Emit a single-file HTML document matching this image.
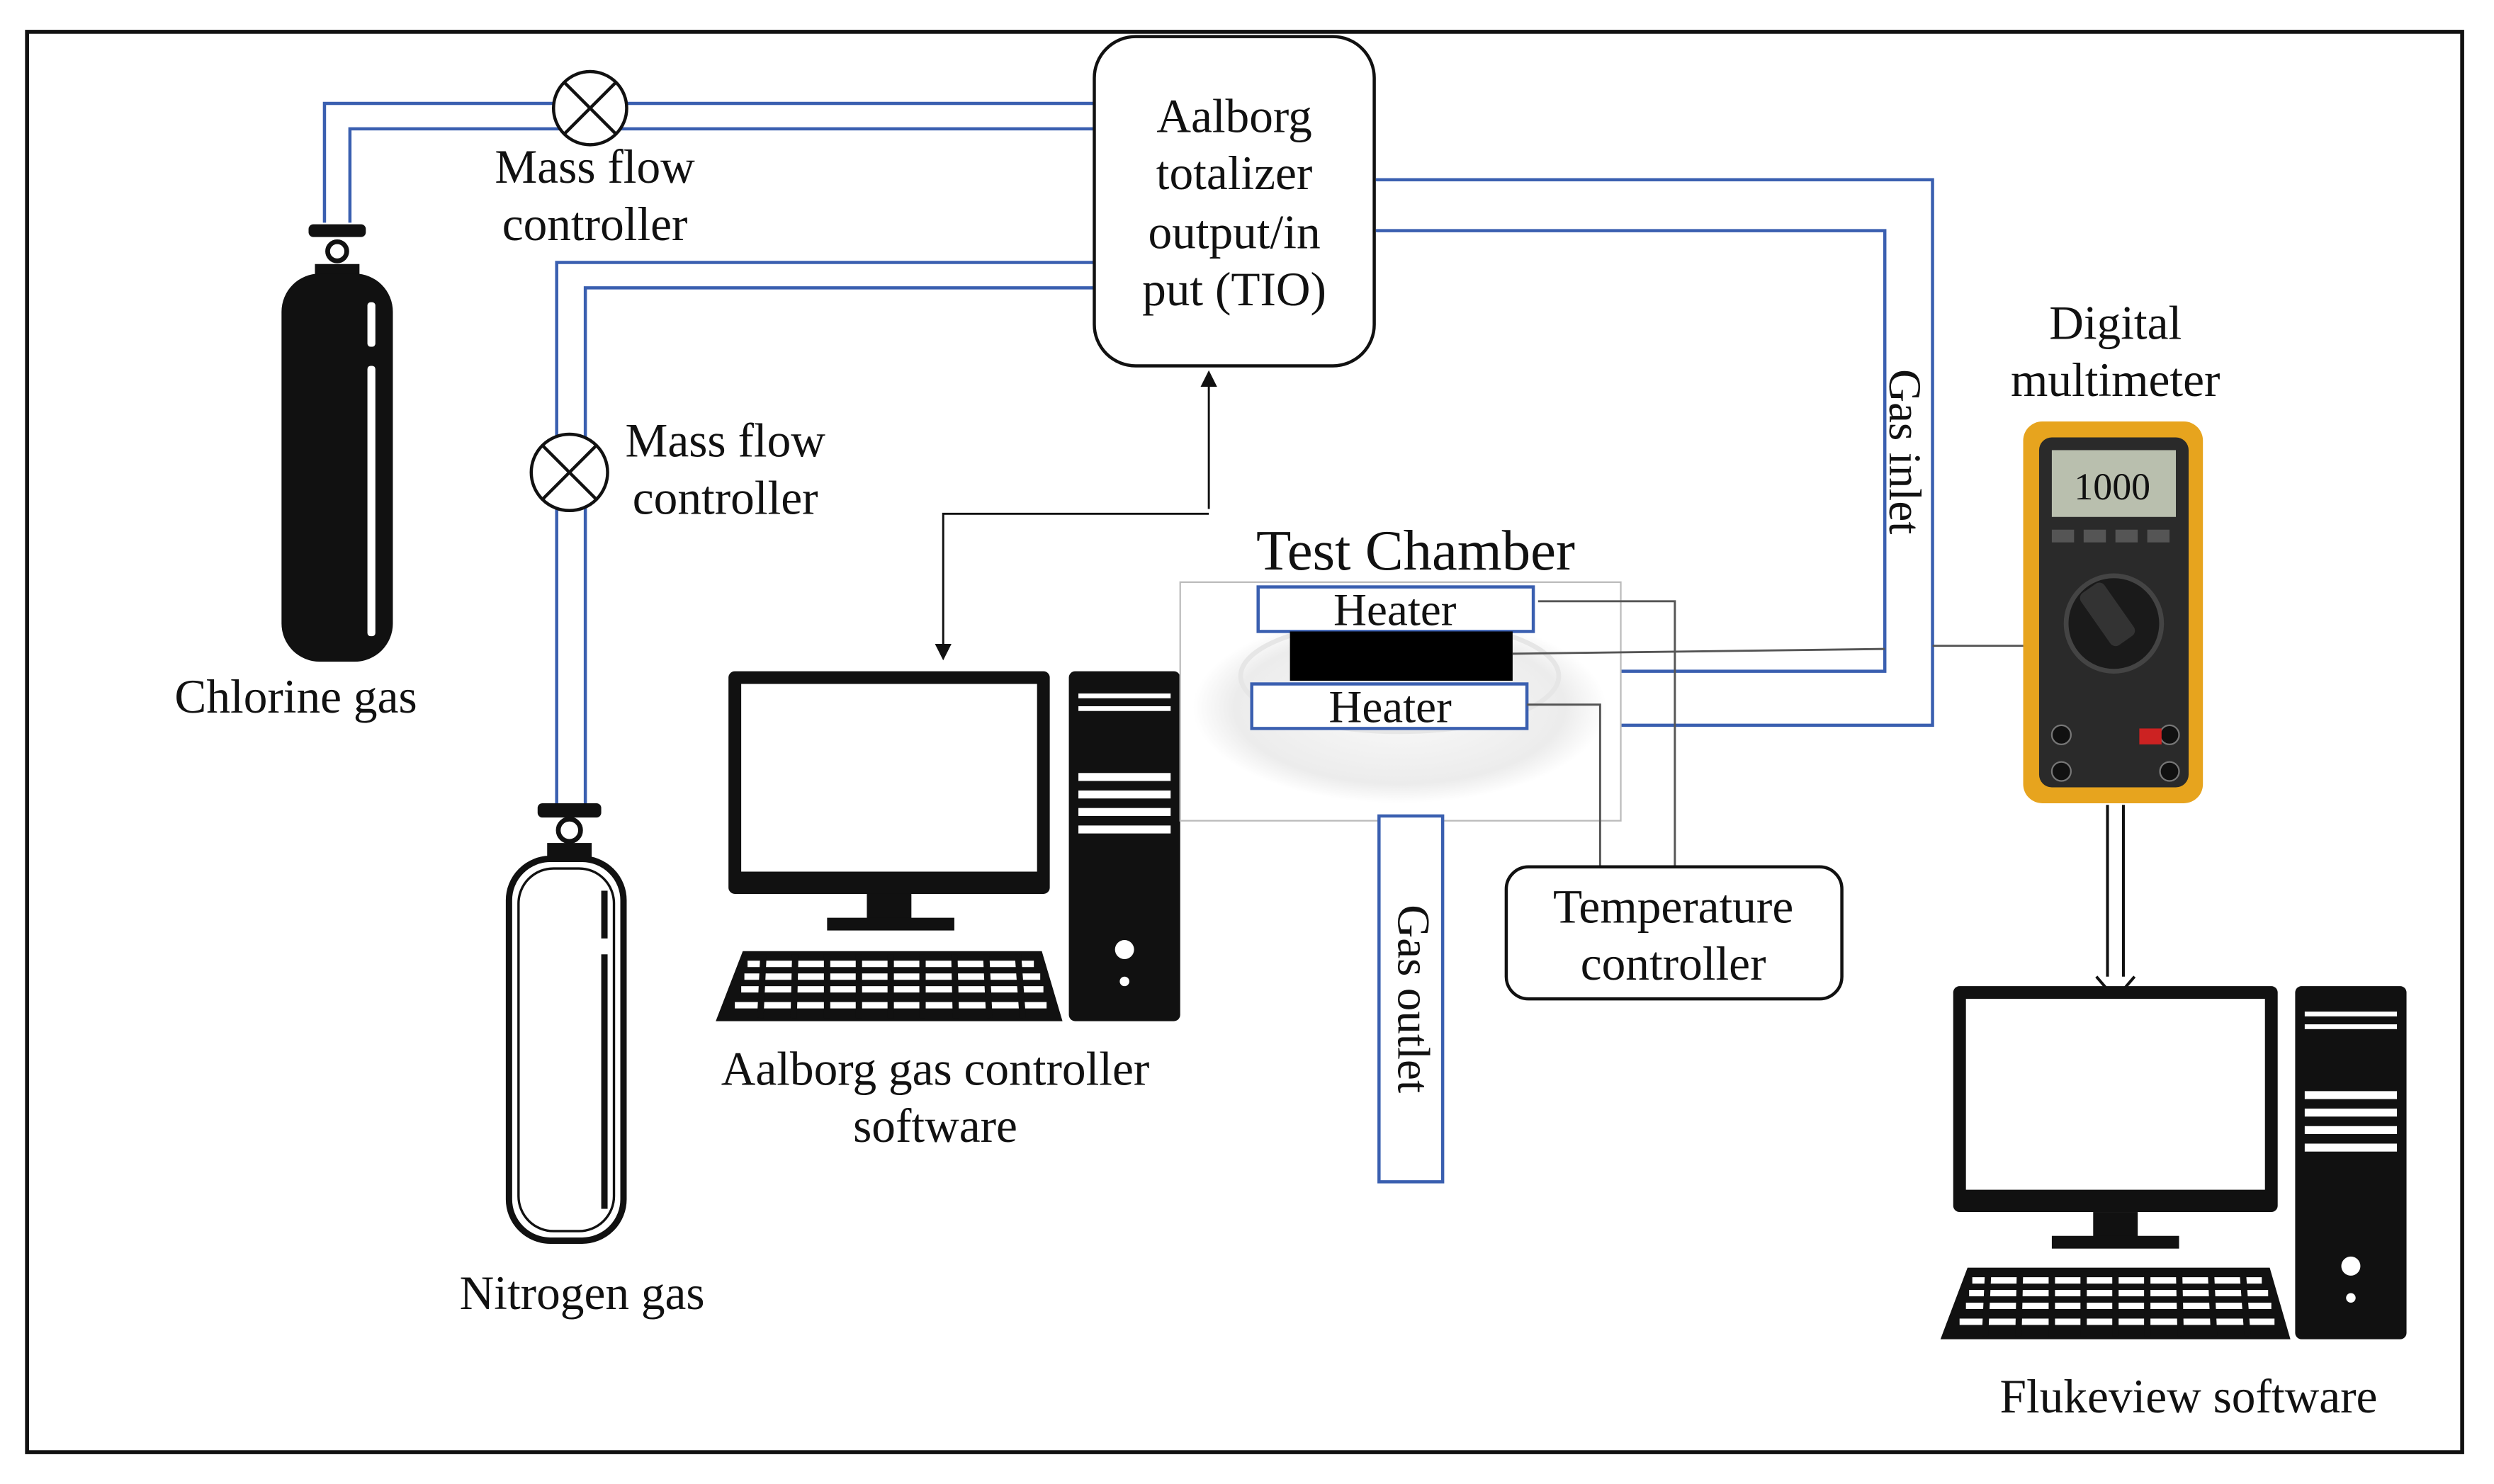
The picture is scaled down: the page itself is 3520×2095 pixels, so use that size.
<!DOCTYPE html>
<html><head><meta charset="utf-8"><style>
html,body{margin:0;padding:0;background:#fff}
svg{display:block}
text{font-family:"Liberation Serif",serif;fill:#111}
</style></head><body>
<svg width="3520" height="2095" viewBox="0 0 1568 933" preserveAspectRatio="none" xmlns="http://www.w3.org/2000/svg">
<defs>
<marker id="ah" markerWidth="8" markerHeight="8" refX="4" refY="4" orient="auto"><path d="M0,0 L8,4 L0,8 z" fill="#111"/></marker>
<radialGradient id="dish" cx="50%" cy="50%" r="50%"><stop offset="0" stop-color="#fafafa"/><stop offset="0.8" stop-color="#ececec"/><stop offset="1" stop-color="#fff"/></radialGradient>
</defs>
<rect x="0" y="0" width="1568" height="933" fill="#fff"/>
<rect x="17" y="20" width="1531" height="893" fill="none" stroke="#111" stroke-width="2.5"/>

<g fill="none" stroke="#3a5fb0" stroke-width="2">
<path d="M204,140 L204,65 L688,65"/>
<path d="M220,140 L220,81 L688,81"/>
<path d="M350,505 L350,165 L688,165"/>
<path d="M368,505 L368,181 L688,181"/>
<path d="M865,113 L1215,113 L1215,456 L1017,456"/>
<path d="M865,145 L1185,145 L1185,422 L1017,422 L1017,456"/>
</g>
<g fill="#fff" stroke="#111" stroke-width="2">
<circle cx="371" cy="68" r="23"/><path d="M355,52 L387,84 M387,52 L355,84"/>
<circle cx="358" cy="297" r="24"/><path d="M341,280 L375,314 M375,280 L341,314"/>
</g>
<text x="374" y="115" font-size="30" text-anchor="middle">Mass flow</text>
<text x="374" y="151" font-size="30" text-anchor="middle">controller</text>
<text x="456" y="287" font-size="30" text-anchor="middle">Mass flow</text>
<text x="456" y="323" font-size="30" text-anchor="middle">controller</text>

<rect x="688" y="23" width="176" height="207" rx="26" fill="#fff" stroke="#111" stroke-width="2"/>
<g font-size="30" text-anchor="middle">
<text x="776" y="83">Aalborg</text><text x="776" y="119">totalizer</text>
<text x="776" y="156">output/in</text><text x="776" y="192">put (TIO)</text></g>

<path d="M760,320 L760,238" stroke="#111" stroke-width="1.3" fill="none" marker-end="url(#ah)"/>
<path d="M760,323 L593,323 L593,410" stroke="#111" stroke-width="1.3" fill="none" marker-end="url(#ah)"/>

<rect x="194" y="141" width="36" height="8" rx="3" fill="#111"/>
<circle cx="212" cy="158" r="6" fill="none" stroke="#111" stroke-width="3"/>
<rect x="198" y="166" width="28" height="10" fill="#111"/>
<rect x="177" y="172" width="70" height="244" rx="24" fill="#111"/>
<rect x="231" y="190" width="5" height="28" rx="2" fill="#fff"/>
<rect x="231" y="230" width="5" height="170" rx="2" fill="#fff"/>
<text x="186" y="448" font-size="30" text-anchor="middle">Chlorine gas</text>

<rect x="338" y="505" width="40" height="9" rx="3" fill="#111"/>
<circle cx="358" cy="522" r="7" fill="none" stroke="#111" stroke-width="3"/>
<rect x="344" y="530" width="28" height="10" fill="#111"/>
<rect x="320" y="540" width="72" height="240" rx="26" fill="#fff" stroke="#111" stroke-width="4"/>
<rect x="326" y="546" width="60" height="228" rx="22" fill="none" stroke="#111" stroke-width="1.5"/>
<rect x="378" y="560" width="4" height="30" fill="#111"/><rect x="378" y="600" width="4" height="160" fill="#111"/>
<text x="366" y="823" font-size="30" text-anchor="middle">Nitrogen gas</text>

<g>
<rect x="458" y="422" width="202" height="140" rx="4" fill="#111"/>
<rect x="466" y="430" width="186" height="118" fill="#fff"/>
<rect x="545" y="562" width="28" height="16" fill="#111"/>
<rect x="520" y="577" width="80" height="8" fill="#111"/>
<path d="M467,598 L655,598 L668,642 L450,642 Z" fill="#111"/>
<g fill="#fff"><rect x="470" y="604" width="180" height="4"/><rect x="468" y="612" width="186" height="4"/><rect x="466" y="620" width="190" height="4"/><rect x="462" y="630" width="196" height="4"/></g>
<g stroke="#111" stroke-width="4"><path d="M480,600 L478,640 M500,600 L499,640 M520,600 L520,640 M540,600 L540,640 M560,600 L560,640 M580,600 L580,640 M600,600 L601,640 M620,600 L622,640 M640,600 L643,640"/></g>
<rect x="672" y="422" width="70" height="220" rx="4" fill="#111"/>
<g fill="#fff"><rect x="678" y="436" width="58" height="3"/><rect x="678" y="444" width="58" height="3"/><rect x="678" y="486" width="58" height="5"/><rect x="678" y="497" width="58" height="5"/><rect x="678" y="508" width="58" height="5"/><rect x="678" y="519" width="58" height="5"/><circle cx="707" cy="597" r="6"/><circle cx="707" cy="617" r="3"/></g>
</g>
<text x="588" y="682" font-size="30" text-anchor="middle">Aalborg gas controller</text>
<text x="588" y="718" font-size="30" text-anchor="middle">software</text>

<text x="890" y="358" font-size="36" text-anchor="middle">Test Chamber</text>
<rect x="742" y="366" width="277" height="150" fill="#fff" stroke="#bbb" stroke-width="1"/>
<ellipse cx="880" cy="445" rx="130" ry="60" fill="url(#dish)"/>
<ellipse cx="880" cy="425" rx="100" ry="35" fill="none" stroke="#e6e6e6" stroke-width="3"/>
<rect x="791" y="369" width="173" height="28" fill="#fff" stroke="#3a5fb0" stroke-width="2"/>
<text x="877" y="393" font-size="29" text-anchor="middle">Heater</text>
<rect x="811" y="397" width="140" height="31" fill="#000"/>
<rect x="787" y="430" width="173" height="28" fill="#fff" stroke="#3a5fb0" stroke-width="2"/>
<text x="874" y="454" font-size="29" text-anchor="middle">Heater</text>
<g stroke="#555" stroke-width="1.3" fill="none">
<path d="M967,378 L1053,378 L1053,545"/>
<path d="M960,443 L1006,443 L1006,545"/>
<path d="M951,411 L1185,408"/>
<path d="M1215,406 L1280,406"/>
</g>
<rect x="867" y="513" width="40" height="230" fill="#fff" stroke="#3a5fb0" stroke-width="2"/>
<text transform="translate(879,628) rotate(90)" font-size="29" text-anchor="middle">Gas outlet</text>
<text transform="translate(1188,284) rotate(90)" font-size="29" text-anchor="middle">Gas inlet</text>

<rect x="947" y="545" width="211" height="83" rx="14" fill="#fff" stroke="#111" stroke-width="2"/>
<text x="1052" y="580" font-size="30" text-anchor="middle">Temperature</text>
<text x="1052" y="616" font-size="30" text-anchor="middle">controller</text>

<text x="1330" y="213" font-size="30" text-anchor="middle">Digital</text>
<text x="1330" y="249" font-size="30" text-anchor="middle">multimeter</text>
<rect x="1272" y="265" width="113" height="240" rx="12" fill="#e7a41e"/>
<rect x="1282" y="275" width="94" height="220" rx="8" fill="#2a2a2a"/>
<rect x="1290" y="283" width="78" height="42" fill="#b9bfae"/>
<text x="1328" y="314" font-size="24" text-anchor="middle" font-family="Liberation Sans">1000</text>
<g fill="#555"><rect x="1290" y="333" width="14" height="8"/><rect x="1310" y="333" width="14" height="8"/><rect x="1330" y="333" width="14" height="8"/><rect x="1350" y="333" width="14" height="8"/></g>
<circle cx="1329" cy="392" r="30" fill="#1a1a1a" stroke="#444" stroke-width="3"/>
<rect x="1320" y="365" width="18" height="40" rx="4" fill="#333" transform="rotate(-35 1329 392)"/>
<g fill="#111" stroke="#777"><circle cx="1296" cy="462" r="6"/><circle cx="1364" cy="462" r="6"/><circle cx="1296" cy="485" r="6"/><circle cx="1364" cy="485" r="6"/></g>
<rect x="1345" y="458" width="14" height="10" fill="#c22"/>
<path d="M1325,506 L1325,616 M1335,506 L1335,616" stroke="#111" stroke-width="1.8"/>
<path d="M1318,614 L1330,628 L1342,614" fill="#fff" stroke="#111" stroke-width="1.8"/>

<g>
<rect x="1228" y="620" width="204" height="142" rx="4" fill="#111"/>
<rect x="1236" y="628" width="188" height="120" fill="#fff"/>
<rect x="1316" y="762" width="28" height="16" fill="#111"/>
<rect x="1290" y="777" width="80" height="8" fill="#111"/>
<path d="M1237,797 L1427,797 L1440,842 L1220,842 Z" fill="#111"/>
<g fill="#fff"><rect x="1240" y="803" width="182" height="4"/><rect x="1238" y="811" width="188" height="4"/><rect x="1236" y="819" width="192" height="4"/><rect x="1232" y="829" width="198" height="4"/></g>
<g stroke="#111" stroke-width="4"><path d="M1250,799 L1248,840 M1270,799 L1269,840 M1290,799 L1290,840 M1310,799 L1310,840 M1330,799 L1330,840 M1350,799 L1350,840 M1370,799 L1371,840 M1390,799 L1392,840 M1410,799 L1413,840"/></g>
<rect x="1443" y="620" width="70" height="222" rx="4" fill="#111"/>
<g fill="#fff"><rect x="1449" y="636" width="58" height="3"/><rect x="1449" y="644" width="58" height="3"/><rect x="1449" y="686" width="58" height="5"/><rect x="1449" y="697" width="58" height="5"/><rect x="1449" y="708" width="58" height="5"/><rect x="1449" y="719" width="58" height="5"/><circle cx="1478" cy="796" r="6"/><circle cx="1478" cy="816" r="3"/></g>
</g>
<text x="1376" y="888" font-size="30" text-anchor="middle">Flukeview software</text>
</svg>
</body></html>
